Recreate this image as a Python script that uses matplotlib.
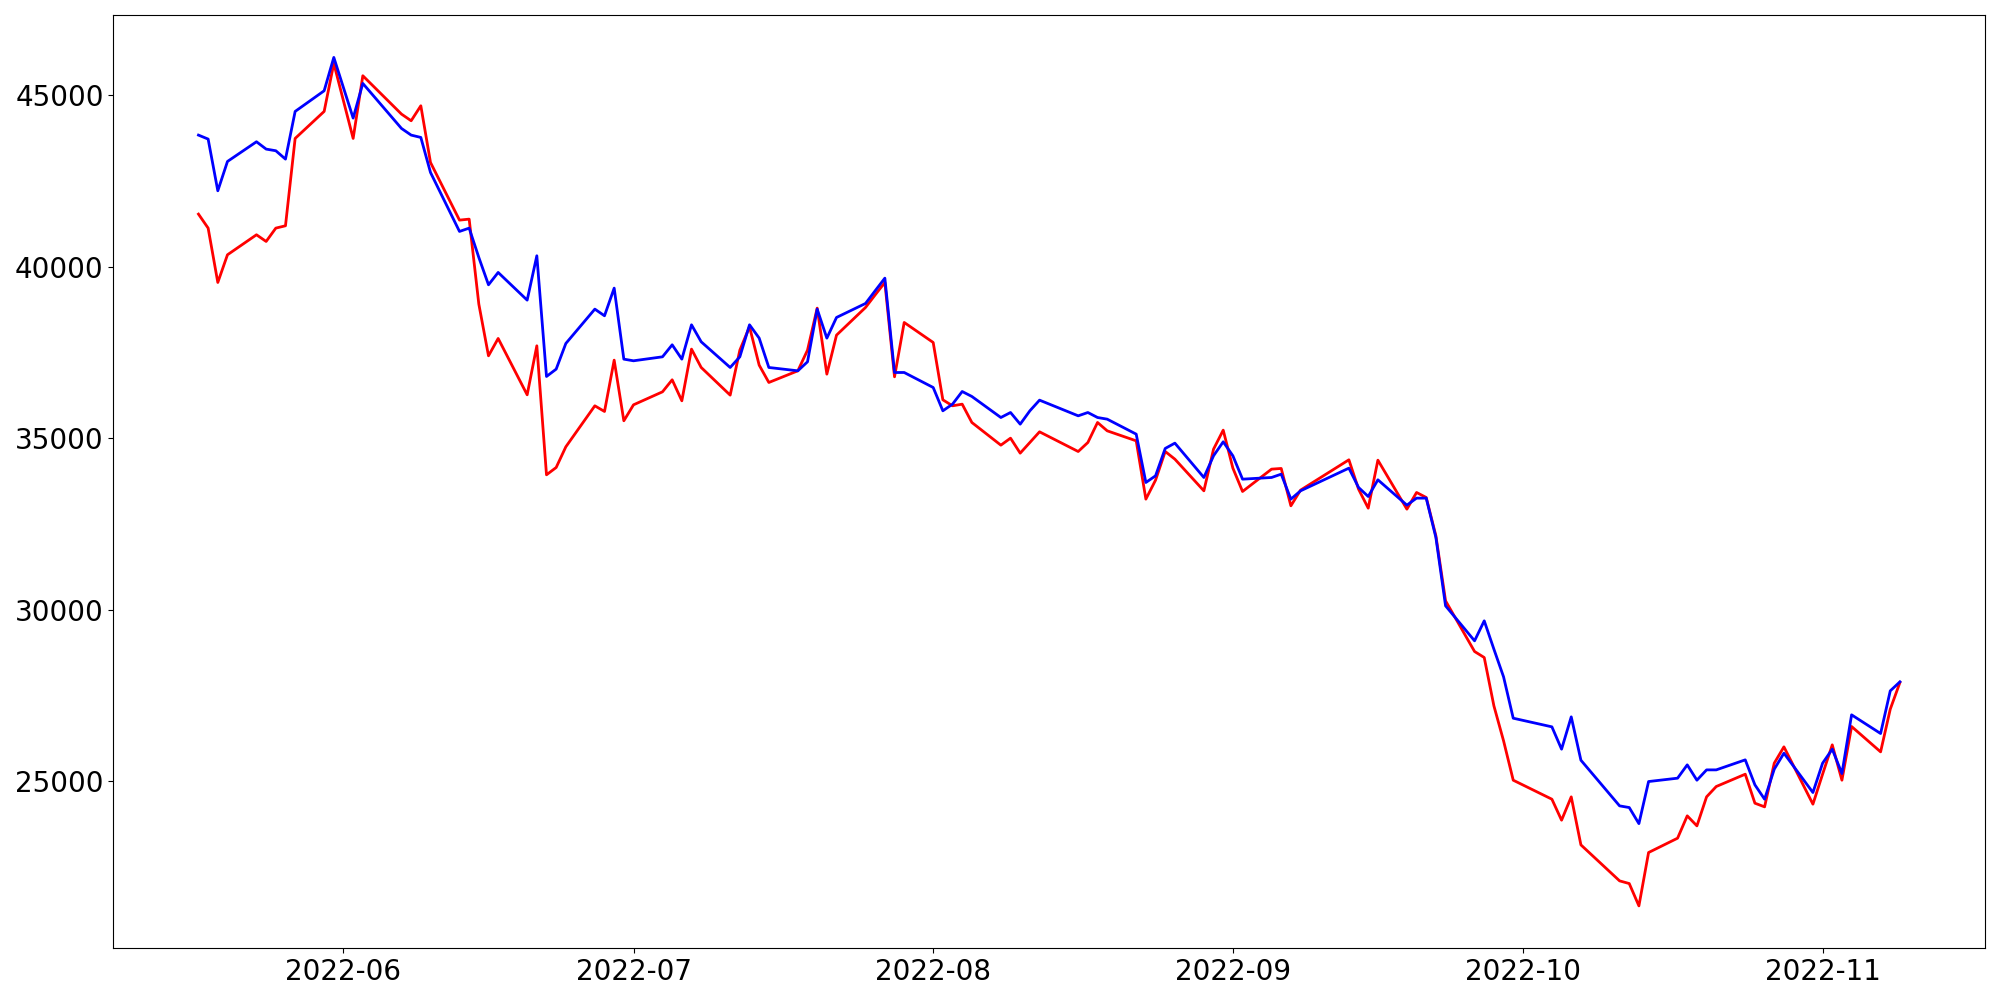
import matplotlib
matplotlib.use("Agg")
import matplotlib.pyplot as plt
import matplotlib.dates as mdates
import pandas as pd

# Trading days (Korean market) 2022-05-17 .. 2022-11-09
start_date = "2022-05-17"
end_date = "2022-11-09"
holidays = ["2022-06-01", "2022-06-06", "2022-08-15", "2022-09-09",
            "2022-09-12", "2022-10-03", "2022-10-10"]

red_may = [41533, 41125, 39541, 40348, 40931, 40736, 41125, 41193, 43739, 44526, 45925]
red_jun = [43739, 45566, 44448, 44254, 44691, 43039, 41358, 41387, 38910, 37403,
           37909, 36267, 37695, 33935, 34148, 34751, 35946, 35781, 37277, 35509]
red_jul = [35975, 36354, 36704, 36092, 37598, 37064, 36257, 37569, 38249, 37131,
           36626, 36966, 37569, 38793, 36869, 38006, 38812, 39180, 39541, 36791, 38375]
red_aug = [37792, 36120, 35946, 35994, 35460, 34799, 35003, 34566, 34877, 35188,
           34614, 34877, 35460, 35217, 34925, 33226, 33779, 34615, 34391, 33468, 34683, 35237]
red_sep = [34129, 33449, 34100, 34120, 33031, 33488, 34372, 33517, 32963, 34362,
           32934, 33420, 33274, 32157, 30262, 28785, 28610, 27201, 26181, 25034]
red_oct = [24480, 23868, 24548, 23149, 22100, 22022, 21371, 22926, 23344, 23995,
           23703, 24549, 24850, 25209, 24364, 24257, 25530, 26006, 24335]
red_nov = [25209, 26064, 25034, 26599, 25860, 27104, 27882]

blue_may = [43836, 43720, 42213, 43068, 43642, 43428, 43380, 43136, 44526, 45128, 46100]
blue_jun = [44332, 45342, 44030, 43836, 43768, 42748, 41028, 41125, 40270, 39473,
            39833, 39026, 40319, 36801, 37015, 37763, 38764, 38570, 39376, 37306]
blue_jul = [37258, 37374, 37724, 37306, 38307, 37812, 37063, 37374, 38307, 37919,
            37063, 36966, 37229, 38764, 37918, 38521, 38929, 39300, 39667, 36917, 36917]
blue_aug = [36480, 35800, 35994, 36363, 36218, 35605, 35751, 35411, 35800, 36111,
            35654, 35751, 35605, 35557, 35120, 33711, 33906, 34703, 34858, 33857, 34489, 34897]
blue_sep = [34489, 33808, 33857, 33954, 33226, 33468, 34129, 33566, 33303, 33789,
            33051, 33255, 33255, 32108, 30116, 29096, 29679, 28853, 28046, 26841]
blue_oct = [26589, 25938, 26880, 25617, 24286, 24237, 23768, 24995, 25093, 25481,
            25034, 25335, 25335, 25627, 24898, 24480, 25355, 25821, 24675]
blue_nov = [25530, 25938, 25229, 26939, 26395, 27638, 27901]

red_values = red_may + red_jun + red_jul + red_aug + red_sep + red_oct + red_nov
blue_values = blue_may + blue_jun + blue_jul + blue_aug + blue_sep + blue_oct + blue_nov

dates = pd.bdate_range(start_date, end_date, freq="C", holidays=holidays)
assert len(dates) == len(red_values) == len(blue_values), (len(dates), len(red_values), len(blue_values))

fig = plt.figure(figsize=(20, 10), dpi=100)
ax = fig.add_subplot(111)
fig.subplots_adjust(left=0.0567, right=0.9925, bottom=0.0517, top=0.985)

ax.plot(dates, red_values, color="red", linewidth=2)
ax.plot(dates, blue_values, color="blue", linewidth=2)

ax.xaxis.set_major_locator(mdates.MonthLocator())
ax.xaxis.set_major_formatter(mdates.DateFormatter("%Y-%m"))
ax.tick_params(axis="both", labelsize=20)

fig.savefig("out.png", dpi=100)
